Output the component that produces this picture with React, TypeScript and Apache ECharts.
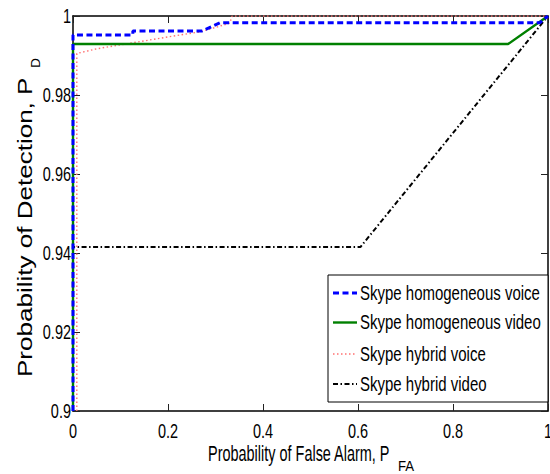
import React, { useEffect, useRef } from 'react';
import * as echarts from 'echarts';

// Axis ticks and their printed labels
const xTicks = [0, 0.2, 0.4, 0.6, 0.8, 1];
const xTickLabels = ['0', '0.2', '0.4', '0.6', '0.8', '1'];
const yTicks = [0.9, 0.92, 0.94, 0.96, 0.98, 1];
const yTickLabels = ['0.9', '0.92', '0.94', '0.96', '0.98', '1'];

const seriesNames = [
  'Skype homogeneous voice',
  'Skype homogeneous video',
  'Skype hybrid voice',
  'Skype hybrid video',
];

// ROC curves: [P_FA, P_D]
const homogeneousVoice: [number, number][] = [
  [0, 0.9], [0, 0.9952], [0.126, 0.9952], [0.126, 0.9962], [0.272, 0.9962],
  [0.31, 0.9983], [0.983, 0.9983], [1, 1],
];
const homogeneousVideo: [number, number][] = [
  [0, 0.9], [0, 0.9929], [0.916, 0.9929], [1, 1],
];
const hybridVoice: [number, number][] = [
  [0.008, 0.9], [0.008, 0.9905], [0.05, 0.9917], [0.1, 0.9927], [0.14, 0.9935],
  [0.2, 0.9947], [0.267, 0.996], [0.3, 0.9971], [0.33, 0.9982], [0.335, 1], [1, 1],
];
const hybridVideo: [number, number][] = [
  [0, 0.9], [0, 0.9415], [0.605, 0.9415], [1, 1],
];

const FONT = 'Liberation Sans, Arial, Helvetica, sans-serif';

const lineStyles = [
  { color: '#0000ff', width: 3, type: [6, 3.5] as number[] },
  { color: '#008000', width: 2.4, type: 'solid' as const },
  { color: '#ff7070', width: 1.4, type: [1.5, 2.5] as number[] },
  { color: '#000000', width: 2, type: [5, 2.5, 1.5, 2.5] as number[] },
];
const seriesData = [homogeneousVoice, homogeneousVideo, hybridVoice, hybridVideo];

function makeAxis(kind: 'x' | 'y', position: string) {
  const base = kind === 'x'
    ? { min: 0, max: 1, interval: 0.2 }
    : { min: 0.9, max: 1, interval: 0.02 };
  return {
    type: 'value',
    position,
    ...base,
    axisLine: { show: true, onZero: false, lineStyle: { color: '#000', width: 1.5 } },
    axisTick: { show: true, inside: true, length: 7, lineStyle: { color: '#222', width: 1 } },
    axisLabel: { show: false },
    splitLine: { show: false },
  };
}

export default function App() {
  const ref = useRef<HTMLDivElement>(null);

  useEffect(() => {
    if (!ref.current) return;
    const chart = echarts.init(ref.current, null, { renderer: 'svg' });

    chart.setOption({
      animation: false,
      backgroundColor: '#fff',
      grid: { left: 73, right: 2, top: 16, bottom: 63, containLabel: false },
      xAxis: [makeAxis('x', 'bottom'), makeAxis('x', 'top')],
      yAxis: [makeAxis('y', 'left'), makeAxis('y', 'right')],
      series: seriesData.map((data, i) => ({
        name: seriesNames[i],
        type: 'line',
        xAxisIndex: 0,
        yAxisIndex: 0,
        data,
        symbol: 'none',
        showSymbol: false,
        clip: true,
        lineStyle: lineStyles[i],
        z: 10 - i,
      })),
    });

    // Tick labels, axis titles and legend, placed from the axis scales
    const px = (v: number) => chart.convertToPixel({ xAxisIndex: 0 }, v) as number;
    const py = (v: number) => chart.convertToPixel({ yAxisIndex: 0 }, v) as number;
    const bottom = py(0.9);
    const left = px(0);
    const right = px(1);

    const textEl = (
      text: string, x: number, y: number, size: number, align: string,
      scaleX = 1, rotation = 0,
    ) => ({
      type: 'text',
      x, y, scaleX, rotation,
      z: 50,
      style: {
        text,
        fill: '#000',
        fontSize: size,
        fontFamily: FONT,
        align,
        textAlign: align,
        verticalAlign: 'middle',
        textVerticalAlign: 'middle',
      },
    });

    const graphics: any[] = [];
    xTicks.forEach((v, i) => graphics.push(textEl(xTickLabels[i], px(v), bottom + 20, 21, 'center', 0.69)));
    yTicks.forEach((v, i) => graphics.push(textEl(yTickLabels[i], left - 2, py(v), 21, 'right', 0.69)));

    // x-axis title with subscript
    graphics.push(textEl('Probability of False Alarm, P', 208, 453, 22, 'left', 0.657));
    graphics.push(textEl('FA', 398, 465.5, 15, 'left', 0.88));

    // y-axis title (rotated) with subscript
    graphics.push(textEl('Probability of Detection, P', 24.5, 377, 21, 'left', 1.24, Math.PI / 2));
    graphics.push(textEl('D', 36, 68, 12, 'left', 1.15, Math.PI / 2));

    // Legend box
    const lgLeft = 328, lgTop = 275, lgBottom = 402;
    graphics.push({
      type: 'rect',
      z: 40,
      shape: { x: lgLeft, y: lgTop, width: right - lgLeft, height: lgBottom - lgTop },
      style: { fill: '#fff', stroke: '#000', lineWidth: 1 },
    });
    const rows = [293, 322.5, 354, 384];
    seriesNames.forEach((name, i) => {
      const ls = lineStyles[i];
      graphics.push({
        type: 'line',
        z: 45,
        shape: { x1: 333, y1: rows[i], x2: 357, y2: rows[i] },
        style: {
          stroke: ls.color,
          lineWidth: ls.width,
          lineDash: Array.isArray(ls.type) ? ls.type : null,
        },
      });
      graphics.push(textEl(name, 360, rows[i], 20, 'left', 0.75));
    });

    chart.setOption({ graphic: graphics });

    return () => chart.dispose();
  }, []);

  return (
    <div
      ref={ref}
      style={{ position: 'fixed', left: 0, top: 0, width: 550, height: 474, background: '#fff' }}
    />
  );
}
